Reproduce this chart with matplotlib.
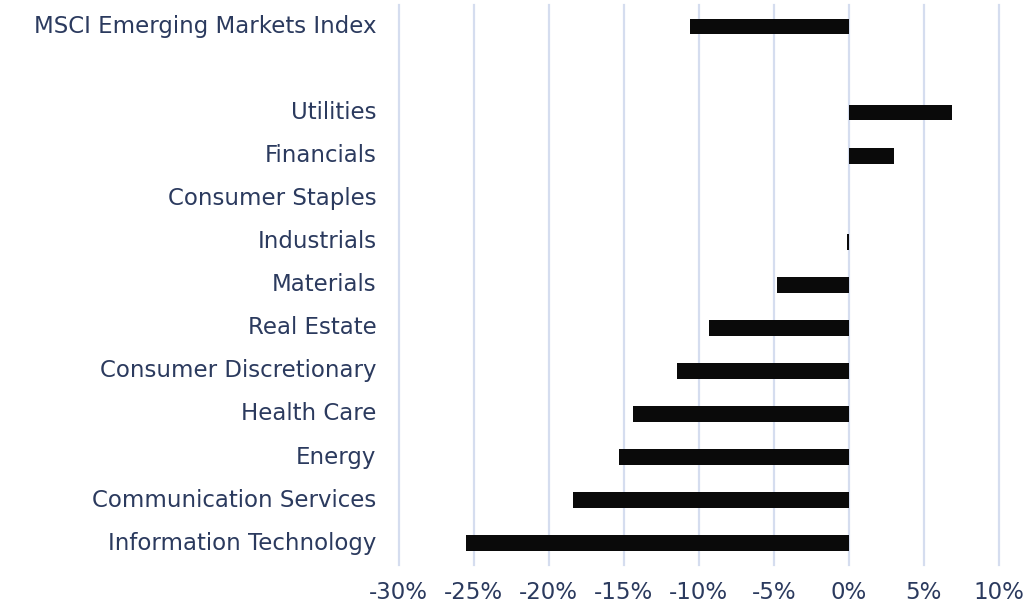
import matplotlib
matplotlib.use("Agg")
import matplotlib.pyplot as plt
from matplotlib.ticker import FuncFormatter

# top to bottom; "" is the empty spacer row
categories = [
    "MSCI Emerging Markets Index", "",
    "Utilities", "Financials", "Consumer Staples", "Industrials",
    "Materials", "Real Estate", "Consumer Discretionary", "Health Care",
    "Energy", "Communication Services", "Information Technology",
]
returns = [
    -10.6, float("nan"),
    6.85, 3.0, 0.0, -0.15,
    -4.8, -9.3, -11.45, -14.4,
    -15.3, -18.4, -25.5,
]

NAVY = "#2b3a5e"
GRID = "#d5ddef"

plt.rcParams["font.family"] = ["DejaVu Sans"]

fig = plt.figure(figsize=(10.25, 6.07), dpi=100)
ax = fig.add_axes([0.389, 0.070, 0.5855, 0.921])

ypos = list(range(len(categories)))
ax.barh(ypos, returns, height=0.35, color="#0a0a0a", linewidth=0, zorder=3)

ax.set_xlim(-30, 10)
ax.set_ylim(len(categories) - 0.5, -0.5)
ax.set_xticks(range(-30, 11, 5))
ax.xaxis.set_major_formatter(FuncFormatter(lambda v, _: f"{v:.0f}%"))
ax.set_yticks(ypos)
ax.set_yticklabels(categories)

ax.grid(axis="x", color=GRID, linewidth=1.6, zorder=0)
for gl in ax.get_xgridlines():
    gl.set_clip_on(False)
for s in ax.spines.values():
    s.set_visible(False)
ax.tick_params(axis="both", length=0, labelsize=16.5, labelcolor=NAVY)
ax.tick_params(axis="y", pad=16)
ax.tick_params(axis="x", pad=12)
for lbl in ax.get_yticklabels():
    lbl.set_verticalalignment("center")

fig.savefig("out.png", dpi=100)
